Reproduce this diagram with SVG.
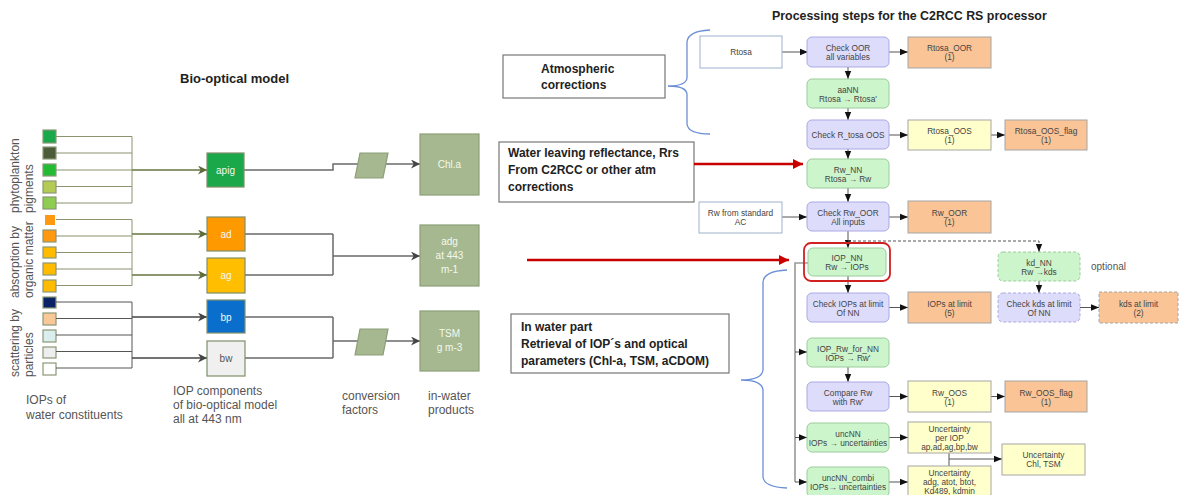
<svg xmlns="http://www.w3.org/2000/svg" width="1179" height="495" viewBox="0 0 1179 495">
<defs>
<style>
text{font-family:"Liberation Sans",Arial,sans-serif}
.lbl{font-size:12px;fill:#555}
.ttl{font-size:13px;font-weight:bold;fill:#222}
.bt{font-size:12px;font-weight:bold;fill:#222}
.nt{font-size:8.3px;fill:#444;text-anchor:middle}
.it{font-size:10px;fill:#f4f8ee;text-anchor:middle}
.sq{stroke:#8b9878;stroke-width:1.2}
.ol{stroke:#8a9470;stroke-width:1;fill:none}
.olo{stroke:#66743f;stroke-width:1.6;fill:none}
.gl{stroke:#555;stroke-width:1;fill:none}
.glo{stroke:#444;stroke-width:1.6;fill:none}
.gr{stroke:#6a6a6a;stroke-width:1.5;fill:none}
.iop{stroke:#7f8f6a;stroke-width:1.2}
.prod{fill:#a5b890;stroke:#8c9e78;stroke-width:1.2}
.lav{fill:#dedcfb;stroke:#aaa8e2;stroke-width:1}
.grn{fill:#ccf5cc;stroke:#9ccc9c;stroke-width:1}
.org{fill:#fac496;stroke:#a6a6a6;stroke-width:1}
.yel{fill:#ffffcc;stroke:#a6a6a6;stroke-width:1}
.wht{fill:#fff;stroke:#9fb3cc;stroke-width:1}
.dash{stroke-dasharray:3,2}
.ar{stroke:#555;stroke-width:1;fill:none}
.brace{stroke:#6b8fd6;stroke-width:1.3;fill:none}
.tb{fill:#fff;stroke:#777;stroke-width:1.2}
.red{stroke:#c80000;stroke-width:2.6;fill:none}
</style>
<marker id="mk" viewBox="0 0 10 10" refX="10" refY="5" markerWidth="9" markerHeight="8" markerUnits="userSpaceOnUse" orient="auto"><path d="M0,1 L10,5 L0,9 z" fill="#111"/></marker>
<marker id="mo" viewBox="0 0 10 10" refX="10" refY="5" markerWidth="9" markerHeight="9" markerUnits="userSpaceOnUse" orient="auto"><path d="M0,0 L10,5 L0,10 L3,5 z" fill="#5d6b3a"/></marker>
<marker id="mg" viewBox="0 0 10 10" refX="10" refY="5" markerWidth="9" markerHeight="9" markerUnits="userSpaceOnUse" orient="auto"><path d="M0,0 L10,5 L0,10 L3,5 z" fill="#444"/></marker>
<marker id="mr" viewBox="0 0 10 10" refX="10" refY="5" markerWidth="11" markerHeight="10" markerUnits="userSpaceOnUse" orient="auto"><path d="M0,0 L10,5 L0,10 z" fill="#c80000"/></marker>
</defs>
<rect width="1179" height="495" fill="#fff"/>

<!-- LEFT: bio-optical model -->
<text class="ttl" x="180" y="83">Bio-optical model</text>

<g id="labels-rotated" class="lbl">
<text transform="translate(18.5,213) rotate(-90)">phytoplankton</text>
<text transform="translate(32.5,213) rotate(-90)">pigments</text>
<text transform="translate(18.5,298) rotate(-90)">absorption by</text>
<text transform="translate(32.5,298) rotate(-90)">organic matter</text>
<text transform="translate(18.5,377) rotate(-90)">scattering by</text>
<text transform="translate(32.5,377) rotate(-90)">particles</text>
</g>

<g id="squares">
<rect class="sq" x="43" y="130" width="13" height="13" fill="#1aa84a"/>
<rect class="sq" x="43" y="147" width="13" height="12" fill="#4d5c38"/>
<rect class="sq" x="43" y="164" width="13" height="12" fill="#22bb33"/>
<rect class="sq" x="43" y="181" width="13" height="12" fill="#b4cc55"/>
<rect class="sq" x="43" y="197" width="13" height="12" fill="#8fcc52"/>
<rect x="45" y="215" width="10" height="10" fill="#ff9911"/>
<rect class="sq" x="43" y="230" width="13" height="12" fill="#ff9911"/>
<rect class="sq" x="43" y="247" width="13" height="11" fill="#ffbb00"/>
<rect class="sq" x="43" y="263" width="13" height="12" fill="#ffbb00"/>
<rect class="sq" x="43" y="280" width="13" height="12" fill="#ffbb00"/>
<rect class="sq" x="43" y="297" width="13" height="11" fill="#0c2266"/>
<rect class="sq" x="43" y="313" width="13" height="12" fill="#f8c898"/>
<rect class="sq" x="43" y="330" width="13" height="12" fill="#dbeeee"/>
<rect class="sq" x="43" y="347" width="13" height="11" fill="#eeeeee"/>
<rect class="sq" x="43" y="363" width="13" height="12" fill="#ffffff"/>
</g>

<g id="left-connectors">
<path class="ol" d="M56,136.5H132M56,153H132M56,170H132M56,186.5H132M56,203H132M132,136.5V203"/>
<path class="olo" d="M132,170H207" marker-end="url(#mo)"/>
<path class="ol" d="M56,219.5H132M56,236H132M56,252.5H132M56,269H132M56,285.5H132M132,219.5V285.5"/>
<path class="olo" d="M132,234H207" marker-end="url(#mo)"/>
<path class="olo" d="M132,275H207" marker-end="url(#mo)"/>
<path class="gl" d="M56,302H132M56,318.5H132M56,335H132M56,351.5H132M56,368H132M132,302V368"/>
<path class="glo" d="M132,317H207" marker-end="url(#mg)"/>
<path class="glo" d="M132,358H207" marker-end="url(#mg)"/>
<path class="gr" d="M244,170H333V164H358"/>
<path class="gr" d="M386,164H420" marker-end="url(#mg)"/>
<path class="gr" d="M245,234H333M245,275H333M333,234V275"/>
<path class="gr" d="M333,256H420" marker-end="url(#mg)"/>
<path class="gr" d="M245,317H333M245,358H333M333,317V358M333,341H358"/>
<path class="gr" d="M385,341H420" marker-end="url(#mg)"/>
</g>

<g id="iop-apig"><rect class="iop" x="207" y="153" width="37" height="34" fill="#1aa84a"/><text class="it" x="225.5" y="173.5">apig</text></g>
<g id="iop-ad"><rect class="iop" x="207" y="217" width="38" height="34" fill="#ff9900"/><text class="it" x="226" y="237.5">ad</text></g>
<g id="iop-ag"><rect class="iop" x="207" y="258" width="38" height="35" fill="#ffbf00"/><text class="it" x="226" y="278.5">ag</text></g>
<g id="iop-bp"><rect class="iop" x="207" y="300" width="38" height="33" fill="#0a6ecc"/><text class="it" x="226" y="320.5">bp</text></g>
<g id="iop-bw"><rect class="iop" x="207" y="341" width="38" height="35" fill="#f0f0f0"/><text class="it" x="226" y="361.5" style="fill:#555">bw</text></g>

<g id="conv1"><polygon class="prod" points="360,153 388,153 383,178 355,178"/></g>
<g id="conv2"><polygon class="prod" points="360,329 388,329 383,355 355,355"/></g>

<g id="prod-chla"><rect class="prod" x="420" y="134" width="59" height="61"/><text class="it" x="449.5" y="168">Chl.a</text></g>
<g id="prod-adg"><rect class="prod" x="420" y="225" width="59" height="61"/><text class="it" x="449.5" y="245">adg</text><text class="it" x="449.5" y="259">at 443</text><text class="it" x="449.5" y="273">m-1</text></g>
<g id="prod-tsm"><rect class="prod" x="420" y="311" width="59" height="60"/><text class="it" x="449.5" y="337">TSM</text><text class="it" x="449.5" y="351">g m-3</text></g>

<g id="bottom-labels" class="lbl">
<text x="26" y="404">IOPs of</text>
<text x="26" y="419">water constituents</text>
<text x="173" y="395">IOP components</text>
<text x="173" y="409">of bio-optical model</text>
<text x="173" y="423">all at 443 nm</text>
<text x="342" y="400">conversion</text>
<text x="342" y="414">factors</text>
<text x="428" y="400">in-water</text>
<text x="428" y="414">products</text>
</g>

<!-- RIGHT: processing steps -->
<text class="bt" x="772" y="20" style="font-size:12.4px">Processing steps for the C2RCC RS processor</text>

<g id="text-atm"><rect class="tb" x="503" y="55" width="162" height="43"/><text class="bt" x="541" y="73">Atmospheric</text><text class="bt" x="541" y="89">corrections</text></g>
<g id="text-wl"><rect class="tb" x="499" y="142" width="195" height="60"/><text class="bt" x="508" y="157">Water leaving reflectance, Rrs</text><text class="bt" x="508" y="174">From C2RCC or other atm</text><text class="bt" x="508" y="191">corrections</text></g>
<g id="text-inwater"><rect class="tb" x="511" y="314" width="218" height="59"/><text class="bt" x="521" y="331">In water part</text><text class="bt" x="521" y="348">Retrieval  of  IOP´s and optical</text><text class="bt" x="521" y="365">parameters  (Chl-a, TSM, aCDOM)</text></g>

<g id="braces">
<path class="brace" d="M710,30 Q688,31 687,42 V78 Q686,86 668,86 Q686,86 687,94 V124 Q688,134 710,134"/>
<path class="brace" d="M787,270 Q764,271 763,282 V370 Q762,380 741,380 Q762,380 763,390 V477 Q764,487 787,488"/>
</g>

<g id="connectors">
<path class="red" d="M694,164H803" marker-end="url(#mr)"/>
<path class="red" d="M527,260H789" marker-end="url(#mr)"/>
<path class="ar" d="M782,52H808" marker-end="url(#mk)"/>
<path class="ar" d="M889,52H908" marker-end="url(#mk)"/>
<path class="ar" d="M848,67V79" marker-end="url(#mk)"/>
<path class="ar" d="M848,108V120" marker-end="url(#mk)"/>
<path class="ar" d="M889,135H908" marker-end="url(#mk)"/>
<path class="ar" d="M991,135H1005" marker-end="url(#mk)"/>
<path class="ar" d="M848,149V159" marker-end="url(#mk)"/>
<path class="ar" d="M848,188V202" marker-end="url(#mk)"/>
<path class="ar" d="M782,217H807" marker-end="url(#mk)"/>
<path class="ar" d="M889,217H908" marker-end="url(#mk)"/>
<path class="ar" d="M848,231V248" marker-end="url(#mk)"/>
<path class="ar dash" d="M848,241H1039V252" marker-end="url(#mk)"/>
<path class="ar" d="M848,276V293" marker-end="url(#mk)"/>
<path class="ar" d="M889,307.5H908" marker-end="url(#mk)"/>
<path class="ar" d="M1039,281V293" marker-end="url(#mk)"/>
<path class="ar" d="M1080,307.5H1099" marker-end="url(#mk)"/>
<path d="M808,263H795V482" stroke="#999" stroke-width="1.6" fill="none"/>
<path class="ar" d="M795,352H807" marker-end="url(#mk)"/>
<path class="ar" d="M795,437.5H807" marker-end="url(#mk)"/>
<path class="ar" d="M795,482H807" marker-end="url(#mk)"/>
<path class="ar" d="M848,367V382" marker-end="url(#mk)"/>
<path class="ar" d="M889,396.5H908" marker-end="url(#mk)"/>
<path class="ar" d="M991,396.5H1005" marker-end="url(#mk)"/>
<path class="ar" d="M889,437.5H908" marker-end="url(#mk)"/>
<path class="ar" d="M889,482H908" marker-end="url(#mk)"/>
<path class="ar" d="M949,453V466M949,459H1002" marker-end="url(#mk)"/>
</g>

<g id="n-rtosa"><rect class="wht" x="700" y="36" width="82" height="32"/><text class="nt" x="741" y="55">Rtosa</text></g>
<g id="n-checkoor"><rect class="lav" x="807" y="37" width="82" height="30" rx="5"/><text class="nt" x="848" y="51">Check OOR</text><text class="nt" x="848" y="60">all variables</text></g>
<g id="n-rtosaoor"><rect class="org" x="908" y="37" width="83" height="31"/><text class="nt" x="949.5" y="51">Rtosa_OOR</text><text class="nt" x="949.5" y="60">(1)</text></g>
<g id="n-aann"><rect class="grn" x="807" y="79" width="82" height="29" rx="5"/><text class="nt" x="848" y="92.5">aaNN</text><text class="nt" x="848" y="101.5">Rtosa → Rtosa'</text></g>
<g id="n-checkrtosa"><rect class="lav" x="807" y="120" width="82" height="29" rx="5"/><text class="nt" x="848" y="137.5">Check R_tosa OOS</text></g>
<g id="n-rtosaoos"><rect class="yel" x="908" y="120" width="83" height="30"/><text class="nt" x="949.5" y="134">Rtosa_OOS</text><text class="nt" x="949.5" y="143">(1)</text></g>
<g id="n-rtosaoosflag"><rect class="org" x="1005" y="120" width="82" height="30"/><text class="nt" x="1046" y="134">Rtosa_OOS_flag</text><text class="nt" x="1046" y="143">(1)</text></g>
<g id="n-rwnn"><rect class="grn" x="807" y="159" width="82" height="29" rx="5"/><text class="nt" x="848" y="172.5">Rw_NN</text><text class="nt" x="848" y="181.5">Rtosa → Rw</text></g>
<g id="n-rwstd"><rect class="wht" x="699" y="202" width="83" height="31"/><text class="nt" x="740.5" y="215.5">Rw from standard</text><text class="nt" x="740.5" y="224.5">AC</text></g>
<g id="n-checkrw"><rect class="lav" x="807" y="202" width="82" height="29" rx="5"/><text class="nt" x="848" y="215.5">Check Rw_OOR</text><text class="nt" x="848" y="224.5">All inputs</text></g>
<g id="n-rwoor"><rect class="org" x="908" y="201" width="83" height="32"/><text class="nt" x="949.5" y="216">Rw_OOR</text><text class="nt" x="949.5" y="225">(1)</text></g>
<g id="n-iopnn"><rect x="804" y="243" width="86" height="38" rx="7" fill="none" stroke="#d02020" stroke-width="1.8"/><rect class="grn" x="808" y="248" width="78" height="28" rx="5"/><text class="nt" x="847" y="261">IOP_NN</text><text class="nt" x="847" y="270">Rw → IOPs</text></g>
<g id="n-kdnn"><rect class="grn dash" x="998" y="252" width="82" height="29" rx="5"/><text class="nt" x="1039" y="265.5">kd_NN</text><text class="nt" x="1039" y="274.5">Rw →kds</text></g>
<text class="lbl" x="1091" y="270" style="font-size:10px">optional</text>
<g id="n-checkiops"><rect class="lav" x="807" y="293" width="82" height="29" rx="5"/><text class="nt" x="848" y="306.5">Check IOPs at limit</text><text class="nt" x="848" y="315.5">Of NN</text></g>
<g id="n-iopslimit"><rect class="org" x="908" y="292" width="83" height="31"/><text class="nt" x="949.5" y="306.5">IOPs at limit</text><text class="nt" x="949.5" y="315.5">(5)</text></g>
<g id="n-checkkds"><rect class="lav dash" x="998" y="293" width="82" height="29" rx="5"/><text class="nt" x="1039" y="306.5">Check kds at limit</text><text class="nt" x="1039" y="315.5">Of NN</text></g>
<g id="n-kdslimit"><rect class="org dash" x="1099" y="292" width="79" height="31"/><text class="nt" x="1138.5" y="306.5">kds at limit</text><text class="nt" x="1138.5" y="315.5">(2)</text></g>
<g id="n-ioprw"><rect class="grn" x="807" y="338" width="82" height="29" rx="5"/><text class="nt" x="848" y="351.5">IOP_Rw_for_NN</text><text class="nt" x="848" y="360.5">IOPs → Rw'</text></g>
<g id="n-compare"><rect class="lav" x="807" y="382" width="82" height="29" rx="5"/><text class="nt" x="848" y="395.5">Compare Rw</text><text class="nt" x="848" y="404.5">with Rw'</text></g>
<g id="n-rwoos"><rect class="yel" x="908" y="381" width="83" height="31"/><text class="nt" x="949.5" y="395.5">Rw_OOS</text><text class="nt" x="949.5" y="404.5">(1)</text></g>
<g id="n-rwoosflag"><rect class="org" x="1005" y="381" width="82" height="31"/><text class="nt" x="1046" y="395.5">Rw_OOS_flag</text><text class="nt" x="1046" y="404.5">(1)</text></g>
<g id="n-uncnn"><rect class="grn" x="807" y="423" width="82" height="29" rx="5"/><text class="nt" x="848" y="436.5">uncNN</text><text class="nt" x="848" y="445.5">IOPs → uncertainties</text></g>
<g id="n-uncperiop"><rect class="yel" x="908" y="422" width="83" height="31"/><text class="nt" x="949.5" y="432">Uncertainty</text><text class="nt" x="949.5" y="441">per IOP</text><text class="nt" x="949.5" y="450">ap,ad,ag,bp,bw</text></g>
<g id="n-uncchl"><rect class="yel" x="1002" y="444" width="83" height="31"/><text class="nt" x="1043.5" y="458">Uncertainty</text><text class="nt" x="1043.5" y="467">Chl, TSM</text></g>
<g id="n-unccombi"><rect class="grn" x="807" y="467" width="82" height="30" rx="5"/><text class="nt" x="848" y="480.5">uncNN_combi</text><text class="nt" x="848" y="489.5">IOPs→ uncertainties</text></g>
<g id="n-uncadg"><rect class="yel" x="908" y="466" width="83" height="31"/><text class="nt" x="949.5" y="476">Uncertainty</text><text class="nt" x="949.5" y="485">adg, atot, btot,</text><text class="nt" x="949.5" y="494">Kd489, kdmin</text></g>
</svg>
